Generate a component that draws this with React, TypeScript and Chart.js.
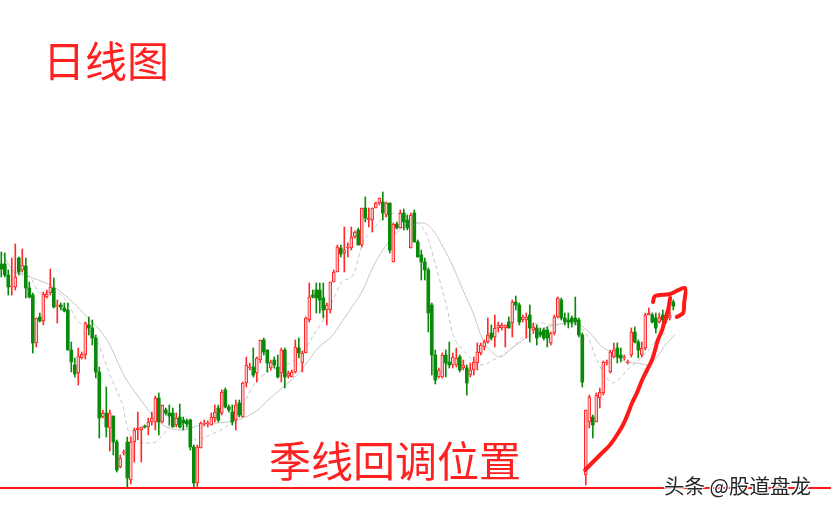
import React, { useEffect, useRef } from "react";
import { Chart, registerables } from "chart.js";
Chart.register(...registerables);

// Daily candles (price units, higher = up)
const opens = [
  246, 246, 235, 223, 223, 252, 240, 244, 222, 215,
  167, 193, 189, 213, 217, 222, 204, 205, 202, 200,
  160, 145, 137, 152, 155, 185, 182, 172, 138, 93,
  97, 82, 94, 68, 43, 57, 68, 30, 68, 80,
  80, 84, 83, 88, 88, 112, 88, 100, 97, 97,
  85, 93, 90, 89, 90, 63, 27, 62, 86, 86,
  85, 92, 102, 97, 120, 103, 98, 90, 107, 93,
  127, 142, 143, 137, 150, 170, 160, 142, 150, 143,
  137, 160, 134, 133, 138, 162, 147, 157, 190, 215,
  220, 220, 212, 200, 200, 228, 238, 262, 257, 262,
  262, 273, 280, 265, 302, 290, 290, 302, 307, 308,
  295, 307, 248, 286, 282, 297, 290, 262, 297, 268,
  255, 248, 240, 205, 155, 133, 133, 155, 148, 145,
  145, 153, 142, 142, 135, 140, 147, 157, 163, 168,
  177, 173, 182, 182, 182, 188, 187, 208, 205, 190,
  190, 195, 180, 182, 178, 180, 180, 167, 177, 193,
  210, 192, 190, 192, 192, 190, 175, 35, 88, 93,
  88, 112, 117, 147, 138, 153, 162, 155, 152, 147,
  155, 178, 168, 155, 162, 195, 195, 192, 188, 195,
  190, 192, 208,
];
const highs = [
  258, 257, 240, 252, 266, 253, 261, 252, 228, 217,
  192, 197, 218, 220, 241, 232, 210, 207, 207, 207,
  168, 152, 162, 158, 188, 193, 190, 175, 143, 100,
  123, 100, 94, 70, 55, 60, 73, 73, 82, 98,
  83, 85, 92, 98, 114, 117, 105, 102, 105, 102,
  97, 106, 93, 91, 91, 65, 65, 88, 90, 89,
  97, 105, 105, 120, 122, 105, 105, 110, 110, 128,
  153, 147, 162, 153, 170, 172, 160, 150, 153, 155,
  162, 162, 139, 140, 170, 172, 159, 193, 227, 220,
  227, 227, 227, 207, 228, 240, 265, 265, 283, 267,
  283, 279, 282, 302, 313, 302, 302, 308, 312, 318,
  308, 307, 287, 288, 300, 301, 295, 297, 300, 270,
  260, 252, 242, 207, 160, 142, 157, 160, 168, 157,
  162, 155, 150, 145, 147, 153, 167, 167, 170, 192,
  185, 195, 188, 187, 185, 193, 210, 214, 207, 195,
  197, 205, 187, 185, 182, 182, 183, 178, 195, 213,
  212, 197, 197, 194, 213, 192, 177, 100, 115, 95,
  117, 122, 149, 150, 160, 167, 167, 162, 155, 150,
  182, 183, 170, 168, 197, 202, 197, 197, 197, 200,
  198, 202, 210,
];
const lows = [
  233, 233, 215, 215, 220, 235, 238, 212, 212, 157,
  163, 188, 185, 212, 215, 202, 187, 200, 198, 160,
  138, 133, 125, 151, 151, 175, 165, 132, 72, 92,
  73, 59, 55, 38, 42, 55, 22, 26, 48, 70,
  48, 82, 75, 85, 80, 75, 87, 95, 85, 83,
  83, 82, 80, 83, 60, 22, 22, 62, 84, 83,
  85, 88, 88, 95, 102, 98, 85, 80, 93, 93,
  123, 140, 133, 128, 147, 155, 138, 140, 142, 132,
  128, 122, 132, 133, 137, 152, 138, 157, 188, 212,
  197, 197, 192, 185, 197, 228, 238, 253, 238, 253,
  260, 272, 265, 263, 288, 283, 278, 302, 305, 290,
  293, 257, 248, 281, 282, 280, 280, 262, 268, 253,
  230, 230, 178, 135, 126, 132, 132, 133, 142, 142,
  143, 138, 140, 115, 133, 135, 140, 155, 160, 167,
  170, 163, 178, 180, 163, 182, 173, 200, 185, 188,
  172, 168, 177, 165, 173, 170, 163, 165, 175, 192,
  190, 185, 182, 183, 185, 173, 123, 25, 82, 72,
  88, 102, 115, 145, 137, 152, 147, 148, 150, 146,
  153, 167, 152, 153, 160, 195, 187, 177, 187, 187,
  187, 190, 200,
];
const closes = [
  241, 235, 223, 224, 233, 238, 245, 222, 213, 167,
  192, 189, 216, 216, 223, 203, 205, 203, 199, 160,
  148, 136, 154, 156, 187, 182, 172, 138, 92, 97,
  83, 97, 68, 40, 52, 58, 32, 68, 80, 82,
  83, 83, 88, 92, 112, 88, 105, 97, 94, 83,
  92, 83, 87, 86, 63, 27, 63, 87, 87, 87,
  93, 98, 90, 118, 103, 100, 88, 105, 95, 127,
  145, 143, 135, 152, 170, 158, 147, 148, 145, 133,
  160, 133, 137, 138, 163, 157, 157, 192, 213, 213,
  212, 210, 200, 205, 228, 238, 263, 256, 260, 263,
  273, 278, 265, 302, 292, 292, 302, 307, 312, 297,
  307, 260, 286, 282, 297, 288, 282, 295, 268, 253,
  248, 240, 197, 155, 130, 140, 155, 147, 145, 153,
  152, 140, 145, 127, 140, 148, 158, 165, 168, 175,
  172, 182, 185, 185, 185, 182, 208, 205, 188, 193,
  193, 182, 183, 172, 175, 172, 172, 177, 193, 212,
  192, 188, 188, 188, 188, 175, 128, 100, 113, 85,
  115, 118, 148, 148, 158, 160, 153, 152, 153, 148,
  178, 168, 160, 162, 195, 197, 188, 182, 193, 190,
  193, 195, 204,
];

// Moving averages: [candle index, price]
const maLong: [number, number][] = [
  [0, 258], [3.3, 240], [8.2, 233], [13.9, 225], [18.8, 213], [24.8, 192], [30.2, 170],
  [35.3, 133], [40.5, 107], [45.3, 87], [51.6, 80], [56.8, 85], [64.5, 88], [67.6, 90],
  [73.3, 100], [76.2, 110], [80.5, 123], [83.9, 133], [86.8, 145], [90.5, 162], [94.5, 174],
  [97.3, 188], [99.6, 200], [103.3, 220], [106.2, 243], [109, 260], [111.9, 273], [114.8, 283],
  [117.6, 287], [120.5, 287], [123.3, 280], [126.2, 263], [129.1, 243], [131.9, 220],
  [134.8, 197], [137.6, 170], [140.5, 157], [142.5, 153], [145.3, 160], [149, 170],
  [153.9, 180], [158.2, 185], [162.5, 187], [165.3, 185], [168.2, 177], [171.1, 165],
  [173.9, 158], [178.8, 148], [181.6, 147], [184.5, 145], [187.3, 153], [190.2, 167], [192.5, 175],
];
const maShort: [number, number][] = [
  [3.3, 238], [8.2, 233], [11.1, 217], [15.3, 218], [18.8, 208], [21.6, 190], [23.9, 183],
  [27.3, 170], [30.2, 143], [32.5, 123], [34.8, 103], [36.2, 80], [39.7, 67], [43.3, 67],
  [46.2, 75], [49, 87], [51.9, 85], [55.9, 70], [59.6, 75], [64.8, 85], [68.2, 100],
  [72.5, 127], [76.2, 138], [83, 148], [85.9, 157], [89.6, 177], [92.5, 193], [94.8, 210],
  [97.3, 228], [100.5, 235], [103.3, 267], [106.2, 280], [109, 292], [112.5, 297],
  [115.9, 293], [118.8, 288], [121.6, 275], [123.3, 255], [125.4, 228], [127.3, 202],
  [129.1, 175], [131.9, 160], [134.8, 150], [137.6, 145], [140.5, 150], [144.5, 158],
  [148.2, 170], [151, 183], [154.8, 187], [157.6, 185], [162.5, 187], [167.3, 175],
  [170.2, 150], [173, 132], [174.8, 127], [176.8, 132], [178.8, 140], [181.6, 148],
  [184.5, 158], [187.3, 170], [190.2, 178],
];

// Hand-drawn annotation arrow: [candle index, price]
const trendArrow: [number, number][] = [
  [166.8, 40], [168.2, 45], [170.2, 52], [171.9, 58], [173.9, 65], [175.9, 75], [177.6, 85],
  [179.1, 97], [180.2, 107], [181.6, 117], [183.1, 130], [184.5, 140], [185.9, 150],
  [186.8, 160], [187.6, 170], [188.8, 180], [189.6, 190], [190.5, 200], [191.1, 212],
];
const arrowHead: [number, number][] = [
  [186.2, 208], [186.8, 214], [191.1, 216], [195.3, 222], [195.1, 207], [194.8, 197], [193, 193],
];

const supportLevel = 22;
const titleText = "日线图";
const noteText = "季线回调位置";
const watermark = "头条 @股道盘龙";

const W = 831;
const H = 510;

export default function App() {
  const ref = useRef<HTMLCanvasElement>(null);
  useEffect(() => {
    document.body.style.margin = "0";
    const idx = opens.map((_, i) => i);
    const up = opens.map((o, i) => closes[i] >= o);
    const pts = (arr: [number, number][]) => arr.map(([x, y]) => ({ x, y }));
    const chart = new Chart(ref.current!, {
      type: "bar",
      data: {
        datasets: [
          {
            type: "line",
            data: pts(maLong),
            borderColor: "#c6c6c6",
            borderWidth: 1,
            pointRadius: 0,
            cubicInterpolationMode: "monotone",
            order: 6,
          } as any,
          {
            type: "line",
            data: pts(maShort),
            borderColor: "#c6c6c6",
            borderWidth: 1,
            borderDash: [4, 3],
            pointRadius: 0,
            cubicInterpolationMode: "monotone",
            order: 5,
          } as any,
          {
            type: "bar",
            data: idx.map((i) => ({ x: i, y: [lows[i], highs[i]] })),
            backgroundColor: up.map((u) => (u ? "#ff2a2a" : "#0a8a0a")),
            barThickness: 1,
            grouped: false,
            order: 4,
          } as any,
          {
            type: "bar",
            data: idx.map((i) => ({
              x: i,
              y: [Math.min(opens[i], closes[i]), Math.max(opens[i], closes[i])],
            })),
            backgroundColor: up.map((u) => (u ? "#ffc4c4" : "#0a8a0a")),
            borderColor: up.map((u) => (u ? "#ff2020" : "#0a8a0a")),
            borderWidth: up.map((u) => (u ? 1 : 0)),
            borderSkipped: false,
            barThickness: 3,
            minBarLength: 1,
            grouped: false,
            order: 3,
          } as any,
          {
            type: "line",
            data: [
              { x: -5, y: supportLevel },
              { x: 245, y: supportLevel },
            ],
            borderColor: "#ff1a1a",
            borderWidth: 2,
            pointRadius: 0,
            order: 2,
          } as any,
          {
            type: "line",
            data: pts(trendArrow),
            borderColor: "#ff1a1a",
            borderWidth: 4,
            pointRadius: 0,
            tension: 0.4,
            borderCapStyle: "round",
            borderJoinStyle: "round",
            order: 1,
          } as any,
          {
            type: "line",
            data: pts(arrowHead),
            borderColor: "#ff1a1a",
            borderWidth: 4,
            pointRadius: 0,
            tension: 0.3,
            borderCapStyle: "round",
            borderJoinStyle: "round",
            order: 0,
          } as any,
        ],
      },
      options: {
        animation: false,
        responsive: false,
        devicePixelRatio: 1,
        layout: { padding: 0 },
        plugins: { legend: { display: false }, tooltip: { enabled: false } },
        scales: {
          x: { type: "linear", min: -1.3 / 3.5, max: (W - 1.3) / 3.5, offset: false, display: false },
          y: { min: 0, max: H, display: false },
        },
      } as any,
    });
    return () => chart.destroy();
  }, []);

  const cjk = '"Noto Sans CJK SC", "Noto Sans", sans-serif';
  return (
    <div style={{ position: "relative", width: W, height: H, background: "#fff", overflow: "hidden" }}>
      <canvas ref={ref} width={W} height={H} style={{ position: "absolute", left: 0, top: 0 }} />
      <div
        style={{
          position: "absolute", left: 43, top: 34, fontFamily: cjk, fontSize: 42,
          lineHeight: "50px", color: "#ff2020", whiteSpace: "nowrap",
        }}
      >
        {titleText}
      </div>
      <div
        style={{
          position: "absolute", left: 269, top: 434, fontFamily: cjk, fontSize: 42,
          lineHeight: "50px", color: "#ff2020", whiteSpace: "nowrap",
        }}
      >
        {noteText}
      </div>
      <div
        style={{
          position: "absolute", left: 664, top: 471, fontFamily: cjk, fontSize: 20.5,
          lineHeight: "28px", color: "#262626", whiteSpace: "nowrap",
          textShadow: "1px 1px 0 #fff, -1px -1px 0 #fff, 1px -1px 0 #fff, -1px 1px 0 #fff",
        }}
      >
        {watermark}
      </div>
    </div>
  );
}
